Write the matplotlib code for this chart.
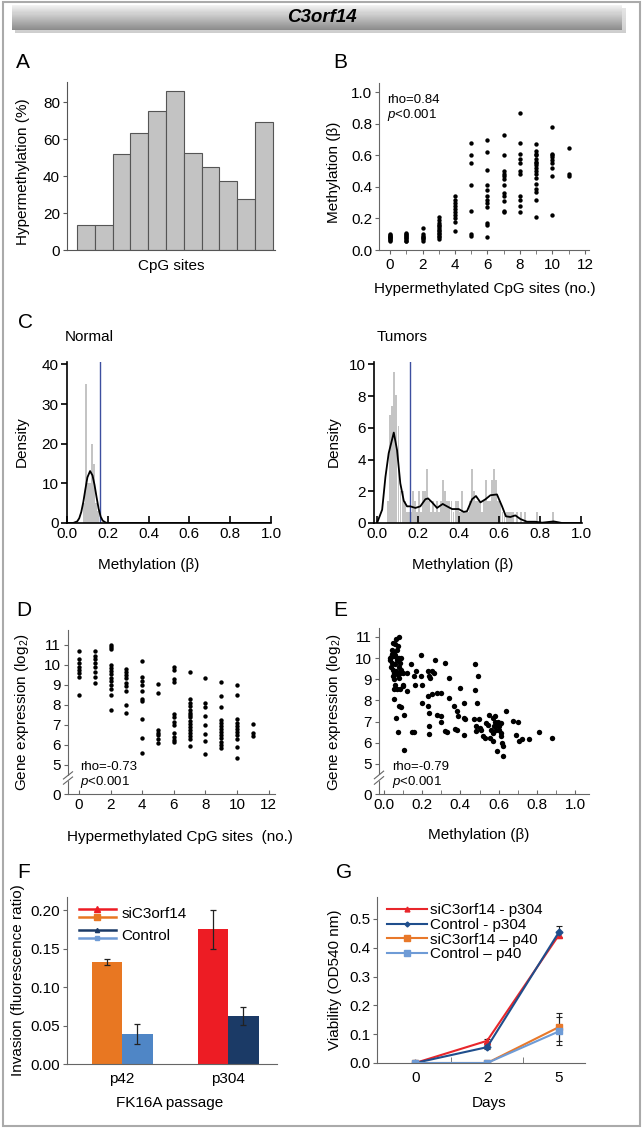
import numpy as np
import matplotlib
matplotlib.use('Agg')
import matplotlib.pyplot as plt
from matplotlib.lines import Line2D
from matplotlib.legend_handler import HandlerBase
from matplotlib.patches import Rectangle
import matplotlib.transforms as mtransforms

plt.rcParams['font.family'] = ['Liberation Sans', 'DejaVu Sans']
plt.rcParams['mathtext.fontset'] = 'custom'
plt.rcParams['mathtext.rm'] = 'Liberation Sans'
plt.rcParams['mathtext.it'] = 'Liberation Sans:italic'

# ---------------- data ----------------
# A: hypermethylation per CpG site (%)
a_heights = [13.6, 13.6, 51.9, 63.3, 75.3, 86.2, 52.5, 45.1, 37.5, 27.7, 69.3]

# B: methylation (beta) grouped by number of hypermethylated CpG sites (0..11)
b_meth_by_sites = [
    [0.06, 0.065, 0.07, 0.075, 0.08, 0.085, 0.09, 0.095, 0.10],
    [0.055, 0.06, 0.07, 0.075, 0.08, 0.09, 0.095, 0.10, 0.11],
    [0.06, 0.07, 0.075, 0.08, 0.09, 0.10, 0.14],
    [0.07, 0.08, 0.09, 0.10, 0.11, 0.12, 0.13, 0.14, 0.15, 0.16, 0.17, 0.19, 0.21],
    [0.12, 0.18, 0.20, 0.22, 0.24, 0.26, 0.28, 0.30, 0.32, 0.34],
    [0.09, 0.10, 0.25, 0.41, 0.55, 0.60, 0.68],
    [0.08, 0.16, 0.17, 0.27, 0.30, 0.32, 0.34, 0.38, 0.41, 0.51, 0.62, 0.70],
    [0.24, 0.25, 0.31, 0.34, 0.36, 0.41, 0.45, 0.47, 0.48, 0.50, 0.60, 0.73],
    [0.24, 0.28, 0.32, 0.34, 0.48, 0.50, 0.55, 0.58, 0.61, 0.68, 0.87],
    [0.21, 0.32, 0.37, 0.39, 0.42, 0.46, 0.48, 0.50, 0.52, 0.54, 0.55, 0.56,
     0.58, 0.60, 0.61, 0.63, 0.67],
    [0.22, 0.47, 0.52, 0.55, 0.57, 0.59, 0.60, 0.61, 0.78],
    [0.47, 0.48, 0.65],
]

# C: density histograms and kde curves
normal_bins = [0.082, 0.092, 0.102, 0.112, 0.122, 0.132, 0.142, 0.152]
normal_density = [5, 35, 10, 10, 20, 15, 5, 3]
normal_kde_x = [0.0, 0.03, 0.05, 0.06, 0.07, 0.08, 0.09, 0.10, 0.113, 0.125,
                0.135, 0.145, 0.155, 0.165, 0.175, 0.19, 0.20, 0.25, 1.0]
normal_kde_y = [0.0, 0.0, 0.4, 1.2, 2.8, 5.3, 8.5, 11.5, 13.1, 12.0,
                9.6, 6.5, 3.6, 1.6, 0.6, 0.1, 0.0, 0.0, 0.0]

tumor_bins = [0.055, 0.065, 0.075, 0.085, 0.095, 0.105, 0.115, 0.125, 0.135, 0.145,
              0.155, 0.165, 0.175, 0.185, 0.195, 0.205, 0.215, 0.225, 0.235, 0.245,
              0.255, 0.265, 0.275, 0.285, 0.295, 0.305, 0.315, 0.325, 0.335, 0.345,
              0.355, 0.365, 0.375, 0.385, 0.395, 0.405, 0.415, 0.425, 0.435, 0.445,
              0.455, 0.465, 0.475, 0.485, 0.495, 0.505, 0.515, 0.525, 0.535, 0.545,
              0.555, 0.565, 0.575, 0.585, 0.595, 0.605, 0.615, 0.625, 0.635, 0.645,
              0.655, 0.665, 0.685, 0.705, 0.725, 0.785, 0.865]
tumor_density = [1.4, 6.8, 7.4, 9.5, 8.1, 6.1, 2.0, 2.0, 1.4, 0.7,
                 0.7, 0.7, 2.0, 1.4, 0.7, 2.0, 0.7, 2.0, 2.0, 3.4,
                 1.4, 0.7, 1.4, 0.7, 1.4, 0.7, 1.4, 2.7, 2.0, 1.4,
                 1.4, 1.4, 0.7, 1.4, 1.4, 0.7, 2.0, 0.7, 0.7, 0.7,
                 1.4, 3.4, 2.0, 1.4, 1.4, 1.4, 0.7, 1.4, 2.7, 1.4,
                 1.4, 2.7, 3.4, 2.7, 1.4, 1.4, 0.7, 0.7, 0.7, 0.7,
                 0.7, 0.7, 0.7, 0.7, 0.7, 0.7, 0.7]
tumor_kde_x = [0.0, 0.025, 0.041, 0.057, 0.082, 0.098, 0.114, 0.131, 0.147, 0.163,
               0.188, 0.212, 0.237, 0.250, 0.270, 0.294, 0.322, 0.343, 0.368, 0.400,
               0.425, 0.441, 0.466, 0.485, 0.507, 0.532, 0.556, 0.588, 0.613, 0.632,
               0.654, 0.678, 0.703, 0.735, 0.776, 0.809, 0.866, 0.907, 1.0]
tumor_kde_y = [0.0, 0.84, 2.9, 4.4, 5.7, 4.6, 2.5, 1.4, 1.05, 1.05,
               0.95, 1.05, 1.5, 1.55, 1.3, 0.95, 1.2, 1.05, 0.88, 0.88,
               0.7, 0.74, 1.5, 1.7, 1.3, 1.5, 1.75, 1.8, 1.05, 0.42,
               0.38, 0.48, 0.25, 0.08, 0.08, 0.02, 0.1, 0.0, 0.0]
meth_cutoff = 0.163

# D: gene expression (log2) grouped by number of hypermethylated CpG sites
d_expr_by_sites = [
    [10.7, 10.3, 10.1, 9.9, 9.75, 9.6, 9.4, 8.5],
    [10.7, 10.45, 10.3, 10.1, 9.9, 9.65, 9.4, 9.1],
    [11.0, 10.9, 10.8, 10.0, 9.85, 9.7, 9.55, 9.35, 9.2, 9.0, 8.8, 8.5, 7.75],
    [9.8, 9.65, 9.5, 9.35, 9.1, 8.95, 8.7, 8.0, 7.6],
    [10.2, 9.4, 9.2, 9.0, 8.7, 8.3, 8.2, 7.3, 6.35, 5.6],
    [9.05, 8.6, 6.75, 6.6, 6.5, 6.3, 6.1],
    [9.9, 9.75, 9.3, 9.15, 7.55, 7.4, 7.15, 7.0, 6.6, 6.4, 6.25, 6.15],
    [9.65, 8.3, 8.1, 7.95, 7.75, 7.6, 7.5, 7.4, 7.2, 7.05, 6.9, 6.75, 6.6,
     6.45, 6.3, 5.95],
    [9.35, 8.1, 7.9, 7.45, 7.0, 6.55, 6.2, 5.55],
    [9.15, 8.45, 7.9, 7.25, 7.1, 6.95, 6.8, 6.65, 6.5, 6.35, 6.15, 6.0, 5.85],
    [9.0, 8.5, 7.3, 7.1, 6.95, 6.8, 6.65, 6.5, 6.3, 5.9, 5.35],
    [7.05, 6.6, 6.45],
]

# E: gene expression vs methylation (tumors)
e_meth = [0.032, 0.041, 0.047, 0.058, 0.065, 0.077, 0.068, 0.050, 0.068, 0.080,
          0.044, 0.060, 0.077, 0.047, 0.065, 0.085, 0.047, 0.080, 0.060, 0.052,
          0.068, 0.082, 0.053, 0.077, 0.090, 0.065, 0.071, 0.103, 0.030, 0.035,
          0.040, 0.055, 0.070, 0.075, 0.085, 0.090, 0.055, 0.035, 0.060, 0.072,
          0.050, 0.090, 0.099, 0.122, 0.100, 0.122, 0.100, 0.103, 0.142, 0.155,
          0.167, 0.164, 0.195, 0.195, 0.200, 0.200, 0.146, 0.158, 0.230, 0.237,
          0.250, 0.260, 0.265, 0.240, 0.230, 0.250, 0.276, 0.230, 0.237, 0.234,
          0.234, 0.276, 0.300, 0.320, 0.340, 0.340, 0.300, 0.300, 0.320, 0.330,
          0.365, 0.373, 0.380, 0.380, 0.390, 0.400, 0.420, 0.420, 0.425, 0.420,
          0.475, 0.475, 0.490, 0.487, 0.470, 0.480, 0.480, 0.495, 0.500, 0.510,
          0.520, 0.530, 0.535, 0.545, 0.550, 0.560, 0.570, 0.570, 0.580, 0.580,
          0.585, 0.590, 0.595, 0.600, 0.600, 0.610, 0.615, 0.615, 0.620, 0.625,
          0.625, 0.590, 0.570, 0.555, 0.575, 0.640, 0.675, 0.700, 0.690, 0.705,
          0.720, 0.760, 0.810, 0.880]
e_expr = [10.0, 10.4, 10.7, 10.65, 10.9, 11.0, 10.4, 10.1, 10.0, 10.0,
          9.77, 9.7, 9.6, 9.45, 9.38, 9.3, 9.15, 9.05, 8.75, 8.55,
          8.55, 8.55, 8.05, 7.75, 7.7, 7.15, 6.5, 5.65, 9.9, 9.6,
          10.2, 10.3, 9.9, 9.2, 9.75, 10.0, 9.0, 10.05, 10.15, 10.55,
          9.3, 9.45, 9.3, 9.3, 8.75, 8.45, 8.67, 7.33, 9.7, 9.15,
          9.38, 8.75, 10.15, 9.15, 8.75, 7.9, 6.5, 6.5, 9.38, 9.15,
          9.38, 9.3, 9.9, 9.05, 8.2, 8.28, 8.35, 7.72, 7.4, 6.78,
          6.42, 7.33, 8.35, 9.77, 8.12, 9.06, 7.25, 7.0, 6.54, 6.5,
          7.72, 6.65, 6.6, 7.5, 7.25, 8.6, 7.9, 7.18, 7.1, 6.38,
          9.7, 8.5, 9.15, 7.9, 7.1, 6.78, 6.55, 7.1, 6.7, 6.62,
          6.3, 6.23, 6.95, 6.85, 7.33, 6.62, 7.18, 6.46, 7.0, 7.25,
          6.62, 6.85, 7.0, 6.78, 6.62, 6.46, 6.95, 6.3, 5.99, 5.86,
          5.36, 5.6, 6.07, 6.23, 6.78, 7.5, 7.05, 7.0, 6.38, 6.07,
          6.18, 6.2, 6.5, 6.23]

# F: invasion assay
f_groups = ['p42', 'p304']
f_si = [0.132, 0.175]
f_si_err = [0.004, 0.025]
f_ctrl = [0.039, 0.062]
f_ctrl_err = [0.0125, 0.0115]

# G: viability
g_days = ['0', '2', '5']
g_si_p304 = [0.0, 0.077, 0.445]
g_si_p304_err = [0.004, 0.007, 0.008]
g_ctrl_p304 = [0.0, 0.055, 0.455]
g_ctrl_p304_err = [0.004, 0.006, 0.02]
g_si_p40 = [0.0, 0.0, 0.125]
g_si_p40_err = [0.004, 0.002, 0.05]
g_ctrl_p40 = [0.0, 0.0, 0.11]
g_ctrl_p40_err = [0.004, 0.002, 0.048]

# ---------------- layout helpers ----------------
W, H = 644, 1129
fig = plt.figure(figsize=(W / 100, H / 100), dpi=100)

FS = 11
SMALL = 9.5
GRAY = '#666666'


def add_ax(l, t, r, b):
    return fig.add_axes([l / W, 1 - b / H, (r - l) / W, (b - t) / H])


def ftext(x, y, s, **kw):
    kw.setdefault('fontsize', FS)
    kw.setdefault('ha', 'center')
    kw.setdefault('va', 'center')
    return fig.text(x / W, 1 - y / H, s, **kw)


def style(ax, color=GRAY, lw=0.8):
    for side in ('top', 'right'):
        ax.spines[side].set_visible(False)
    for side in ('left', 'bottom'):
        ax.spines[side].set_color(color)
        ax.spines[side].set_linewidth(lw)
    ax.tick_params(labelsize=FS, length=3, width=lw, color=color, pad=2)
    ax.tick_params(axis='x', pad=3)


def axis_break(ax, y):
    # white gap in the left spine plus two slanted strokes
    tr = mtransforms.blended_transform_factory(ax.transAxes, ax.transData)
    ax.add_patch(Rectangle((-0.02, y - 0.12), 0.04, 0.24, transform=tr,
                           color='white', clip_on=False, zorder=5))
    for dy in (-0.13, 0.13):
        ax.plot([-0.022, 0.022], [y + dy - 0.18, y + dy + 0.18], transform=tr,
                color=GRAY, lw=0.8, clip_on=False, zorder=6)


# outer frame
fig.add_artist(Rectangle((3 / W, 1 - 1126 / H), 637 / W, 1124 / H,
                         transform=fig.transFigure, fill=False,
                         edgecolor='#aaaaaa', lw=1.5))

# title banner
shadow = add_ax(15, 8, 626, 33)
shadow.axis('off')
shadow.imshow(np.linspace(0.80, 0.62, 30)[:, None] * np.ones((30, 2)),
              cmap='gray', vmin=0, vmax=1, aspect='auto', alpha=0.5)
banner = add_ax(12, 5, 622, 30)
banner.axis('off')
grad = np.concatenate([np.linspace(0.95, 0.82, 10), np.linspace(0.82, 0.55, 20)])
banner.imshow(grad[:, None] * np.ones((30, 2)), cmap='gray', vmin=0, vmax=1,
              aspect='auto')
ftext(322, 17, 'C3orf14', fontsize=13.5, fontweight='bold', style='italic')

# panel letters
for letter, (x, y) in {'A': (16, 62), 'B': (333, 63), 'C': (18, 323),
                       'D': (16, 610), 'E': (333, 610), 'F': (17, 873),
                       'G': (336, 873)}.items():
    ftext(x, y, letter, fontsize=15, ha='left')

# ---------------- A ----------------
ax = add_ax(67, 82, 275, 250)
ax.bar(np.arange(len(a_heights)), a_heights, width=1.0, color='#c3c3c3',
       edgecolor='#555555', linewidth=0.8)
ax.set_xlim(-1.06, 10.62)
ax.set_ylim(0, 91)
ax.set_yticks([0, 20, 40, 60, 80])
ax.set_xticks([])
style(ax, '#555555')
ftext(171, 266, 'CpG sites')
ftext(23, 172, 'Hypermethylation (%)', rotation=90)

# ---------------- B ----------------
ax = add_ax(379, 83, 589, 250)
bx = [i for i, col in enumerate(b_meth_by_sites) for _ in col]
by = [v for col in b_meth_by_sites for v in col]
ax.scatter(bx, by, s=10, color='black', linewidths=0)
ax.set_xlim(-0.68, 12.25)
ax.set_ylim(0, 1.06)
ax.set_xticks(range(0, 13, 2))
ax.set_xticks(range(0, 13), minor=True)
ax.set_yticks([0, 0.2, 0.4, 0.6, 0.8, 1.0])
ax.set_yticklabels(['0.0', '0.2', '0.4', '0.6', '0.8', '1.0'])
style(ax)
ax.tick_params(axis='x', which='minor', length=3, color=GRAY)
ftext(485, 289, 'Hypermethylated CpG sites (no.)')
ftext(334, 172, 'Methylation (β)', rotation=90)
ftext(387, 100, 'rho=0.84', fontsize=SMALL, ha='left')
ftext(387, 115, r'$p$<0.001', fontsize=SMALL, ha='left')

# ---------------- C ----------------
c_ticks = [0, 0.2, 0.4, 0.6, 0.8, 1.0]
c_ticklabels = ['0.0', '0.2', '0.4', '0.6', '0.8', '1.0']

ax = add_ax(67, 362, 271, 523)
ax.bar(normal_bins, normal_density, width=0.0095, color='#c4c4c4', linewidth=0)
ax.axvline(meth_cutoff, color='#3d4f9f', lw=1.0)
ax.plot(normal_kde_x, normal_kde_y, color='black', lw=1.3)
ax.set_xlim(0, 1.0)
ax.set_ylim(0, 40.6)
ax.set_yticks([0, 10, 20, 30, 40])
ax.set_xticks(c_ticks)
ax.set_xticklabels(c_ticklabels)
style(ax, 'black', 1.2)
ax.tick_params(axis='x', direction='in', length=5)
ax.tick_params(axis='y', length=4)
ftext(65, 337, 'Normal', ha='left')
ftext(149, 565, 'Methylation (β)')
ftext(22, 442, 'Density', rotation=90)

ax = add_ax(374, 362, 582, 523)
ax.bar(tumor_bins, tumor_density, width=0.0095, color='#c4c4c4', linewidth=0)
ax.axvline(meth_cutoff, color='#3d4f9f', lw=1.0)
ax.plot(tumor_kde_x, tumor_kde_y, color='black', lw=1.3)
ax.set_xlim(-0.015, 1.005)
ax.set_ylim(0, 10.15)
ax.set_yticks([0, 2, 4, 6, 8, 10])
ax.set_xticks(c_ticks)
ax.set_xticklabels(c_ticklabels)
style(ax, 'black', 1.2)
ax.tick_params(axis='x', direction='in', length=5)
ax.tick_params(axis='y', length=4)
ftext(377, 337, 'Tumors', ha='left')
ftext(463, 565, 'Methylation (β)')
ftext(334, 442, 'Density', rotation=90)

# ---------------- D ----------------
ax = add_ax(68, 630, 275, 794)
dx = [i for i, col in enumerate(d_expr_by_sites) for _ in col]
dy = [v for col in d_expr_by_sites for v in col]
ax.scatter(dx, dy, s=10, color='black', linewidths=0)
ax.set_xlim(-0.7, 12.4)
ax.set_ylim(3.55, 11.75)
ax.set_xticks(range(0, 13, 2))
ax.set_yticks([3.55, 5, 6, 7, 8, 9, 10, 11])
ax.set_yticklabels(['0', '5', '6', '7', '8', '9', '10', '11'])
style(ax)
ax.tick_params(axis='x', direction='in', length=3)
axis_break(ax, 4.35)
ftext(180, 837, 'Hypermethylated CpG sites  (no.)')
ftext(22, 712, r'Gene expression (log$_2$)', rotation=90)
ftext(80, 767, 'rho=-0.73', fontsize=SMALL, ha='left')
ftext(80, 782, r'$p$<0.001', fontsize=SMALL, ha='left')

# ---------------- E ----------------
ax = add_ax(379, 628, 589, 794)
ax.scatter(e_meth, e_expr, s=15, color='black', linewidths=0)
ax.set_xlim(-0.026, 1.073)
ax.set_ylim(3.58, 11.42)
ax.set_xticks(c_ticks)
ax.set_xticklabels(c_ticklabels)
ax.set_xticks(np.round(np.arange(0, 1.05, 0.1), 1), minor=True)
ax.set_yticks([3.58, 5, 6, 7, 8, 9, 10, 11])
ax.set_yticklabels(['0', '5', '6', '7', '8', '9', '10', '11'])
style(ax)
ax.tick_params(axis='x', which='both', direction='in', length=3, color=GRAY)
axis_break(ax, 4.35)
ftext(479, 835, 'Methylation (β)')
ftext(334, 712, r'Gene expression (log$_2$)', rotation=90)
ftext(392, 767, 'rho=-0.79', fontsize=SMALL, ha='left')
ftext(392, 782, r'$p$<0.001', fontsize=SMALL, ha='left')

# ---------------- F ----------------
ax = add_ax(67, 897, 277, 1064)
pos = np.arange(len(f_groups))
bw = 0.288
ekw = dict(ecolor='#222222', elinewidth=0.9, capsize=2.5, capthick=0.9)
ax.bar(pos - bw / 2, f_si, width=bw, color=['#e87722', '#ed1c24'],
       yerr=f_si_err, error_kw=ekw)
ax.bar(pos + bw / 2, f_ctrl, width=bw, color=['#4f86c6', '#1b3a66'],
       yerr=f_ctrl_err, error_kw=ekw)
ax.set_xlim(-0.52, 1.46)
ax.set_ylim(0, 0.217)
ax.set_xticks(pos)
ax.set_xticklabels(f_groups)
ax.set_yticks([0, 0.05, 0.10, 0.15, 0.20])
ax.set_yticklabels(['0.00', '0.05', '0.10', '0.15', '0.20'])
style(ax)
ax.tick_params(axis='x', length=0, pad=6)


class PairHandler(HandlerBase):
    def create_artists(self, legend, orig_handle, xdescent, ydescent, width,
                       height, fontsize, trans):
        arts = []
        for i, h in enumerate(orig_handle):
            y = -ydescent + height * (0.8 - 0.6 * i)
            line = Line2D([-xdescent, width - xdescent], [y, y],
                          color=h.get_color(), lw=h.get_linewidth())
            mk = Line2D([width / 2 - xdescent], [y], marker=h.get_marker(),
                        ms=h.get_markersize(), color=h.get_color(), ls='none')
            for art in (line, mk):
                art.set_transform(trans)
                arts.append(art)
        return arts


si_pair = (Line2D([], [], color='#ed1c24', lw=1.8, marker='^', ms=4),
           Line2D([], [], color='#e87722', lw=1.8, marker='s', ms=4))
ctrl_pair = (Line2D([], [], color='#1b3a66', lw=1.8, marker='^', ms=3),
             Line2D([], [], color='#6e9bd6', lw=1.8, marker='s', ms=3.5))
ax.legend([si_pair, ctrl_pair], ['siC3orf14', 'Control'],
          handler_map={tuple: PairHandler()}, loc='upper left',
          bbox_to_anchor=(0.02, 0.99), frameon=False, fontsize=FS,
          handlelength=2.4, handleheight=1.0, handletextpad=0.4, labelspacing=0.4,
          borderaxespad=0.1)
ftext(170, 1103, 'FK16A passage')
ftext(18, 980, 'Invasion (fluorescence ratio)', rotation=90)

# ---------------- G ----------------
ax = add_ax(377, 897, 585, 1063)
gx = np.arange(len(g_days))
g_series = [
    (g_si_p304, g_si_p304_err, '#e8262b', '^', 4.5, 'siC3orf14 - p304'),
    (g_ctrl_p304, g_ctrl_p304_err, '#1f4e8c', 'D', 3.5, 'Control - p304'),
    (g_si_p40, g_si_p40_err, '#e8782a', 's', 5, 'siC3orf14 \u2013 p40'),
    (g_ctrl_p40, g_ctrl_p40_err, '#6e9bd6', 's', 5, 'Control \u2013 p40'),
]
g_handles = []
for vals, err, col, mk, ms, lab in g_series:
    ax.errorbar(gx, vals, yerr=err, color=col, lw=1.5, marker=mk, ms=ms,
                ecolor='#222222', elinewidth=0.8, capsize=2, capthick=0.8)
    g_handles.append(Line2D([], [], color=col, lw=1.5, marker=mk, ms=ms - 1,
                            label=lab))
ax.set_xlim(-0.53, 2.36)
ax.set_ylim(0, 0.576)
ax.set_xticks(gx)
ax.set_xticklabels(g_days)
ax.set_xticks([0.5, 1.5], minor=True)
ax.set_yticks([0, 0.1, 0.2, 0.3, 0.4, 0.5])
ax.set_yticklabels(['0.0', '0.1', '0.2', '0.3', '0.4', '0.5'])
style(ax)
ax.tick_params(axis='x', which='major', length=0, pad=6)
ax.tick_params(axis='x', which='minor', direction='in', length=4, color=GRAY)
ax.legend(handles=g_handles, loc='upper left', bbox_to_anchor=(0.02, 1.0),
          frameon=False, fontsize=FS, handlelength=2.6, handletextpad=0.2,
          labelspacing=0.05, borderaxespad=0.0)
ftext(489, 1103, 'Days')
ftext(335, 980, 'Viability (OD540 nm)', rotation=90)

fig.savefig('out.png', dpi=100)
